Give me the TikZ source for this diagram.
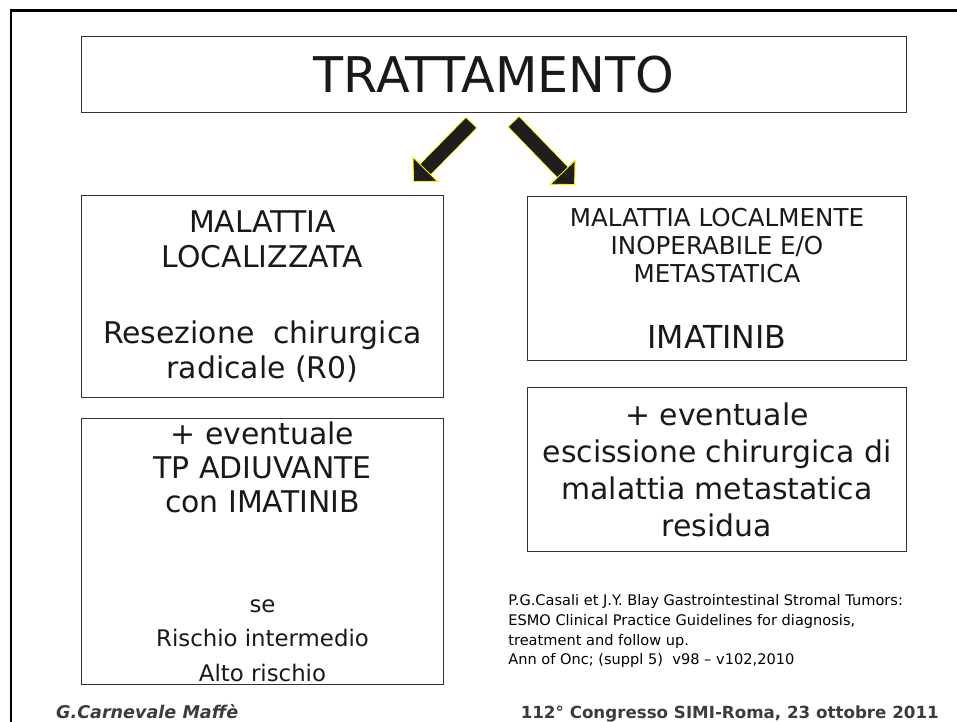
\documentclass[tikz,border=0pt]{standalone}
\usepackage{fontspec}
\setmainfont{DejaVu Sans}
\usetikzlibrary{arrows.meta,positioning}
\definecolor{arrowgray}{RGB}{30,30,30}
\definecolor{footgray}{RGB}{60,60,60}

\begin{document}
\begin{tikzpicture}[x=0.02cm, y=-0.02cm, node distance=0.4cm, box/.style={draw=black!80,line width=0.6pt,align=center,inner sep=0pt,text=black!90}, bigtext/.style={font=\fontsize{17}{19.6}\selectfont}, bigarrow/.style={draw=arrowgray,line width=8pt,-{Triangle[length=0.36cm,width=0.72cm,line width=0.5pt,color=yellow,fill=arrowgray]},preaction={draw=yellow,line width=9pt,shorten <=-0.5pt}}]
\useasboundingbox (0,0) rectangle (957,722);
\draw[line width=0.06cm] (11,722) -- (11,11) -- (957,11);
\node[box, minimum width=16.5cm, minimum height=1.52cm, anchor=north west, font=\fontsize{28}{32}\selectfont] (title) at (81,36) {TRATTAMENTO};
\node[box, bigtext, minimum width=7.24cm, minimum height=4.04cm, anchor=north west] (local) at (81,195) {MALATTIA\\LOCALIZZATA\\[24pt]Resezione\ \ chirurgica\\radicale (R0)};
\node[box, bigtext, minimum width=7.24cm, minimum height=5.32cm, below=of local] (adjuv) {+ eventuale\\TP ADIUVANTE\\con IMATINIB\\[37pt]{\fontsize{13}{18}\selectfont se}\\{\fontsize{13}{18}\selectfont Rischio intermedio}\\{\fontsize{13}{18}\selectfont Alto rischio}};
\node[box, font=\fontsize{14}{15.9}\selectfont, minimum width=7.58cm, minimum height=3.28cm, anchor=north west] (inop) at (527,196) {MALATTIA LOCALMENTE\\INOPERABILE E/O\\METASTATICA\\[22pt]{\fontsize{18}{20}\selectfont IMATINIB}};
\node[box, font=\fontsize{17}{21}\selectfont, minimum width=7.58cm, minimum height=3.28cm, below=0.52cm of inop] (excis) {+ eventuale\\escissione chirurgica di\\malattia metastatica\\residua};
\node[anchor=north west, inner sep=0pt, align=left, font=\fontsize{8.3}{11.3}\selectfont] (ref) at (508,594) {P.G.Casali et J.Y. Blay Gastrointestinal Stromal Tumors:\\ESMO Clinical Practice Guidelines for diagnosis,\\treatment and follow up.\\Ann of Onc; (suppl 5)\ \ v98 – v102,2010};
\node[anchor=base west, text=footgray, font=\fontsize{10}{12}\selectfont\bfseries\itshape] (author) at (50,718) {G.Carnevale Maffè};
\node[anchor=base east, text=footgray, font=\fontsize{9.5}{12}\selectfont\bfseries] (congress) at (945,718) {112° Congresso SIMI-Roma, 23 ottobre 2011};
% block arrows from the title down to the two branches
\coordinate (ltail) at (471,123);
\coordinate (ltip) at (413,182);
\coordinate (rtail) at (514,122);
\coordinate (rtip) at (575,185);
\draw[bigarrow] (ltail) -- (ltip);
\draw[bigarrow] (rtail) -- (rtip);
\end{tikzpicture}
\end{document}
